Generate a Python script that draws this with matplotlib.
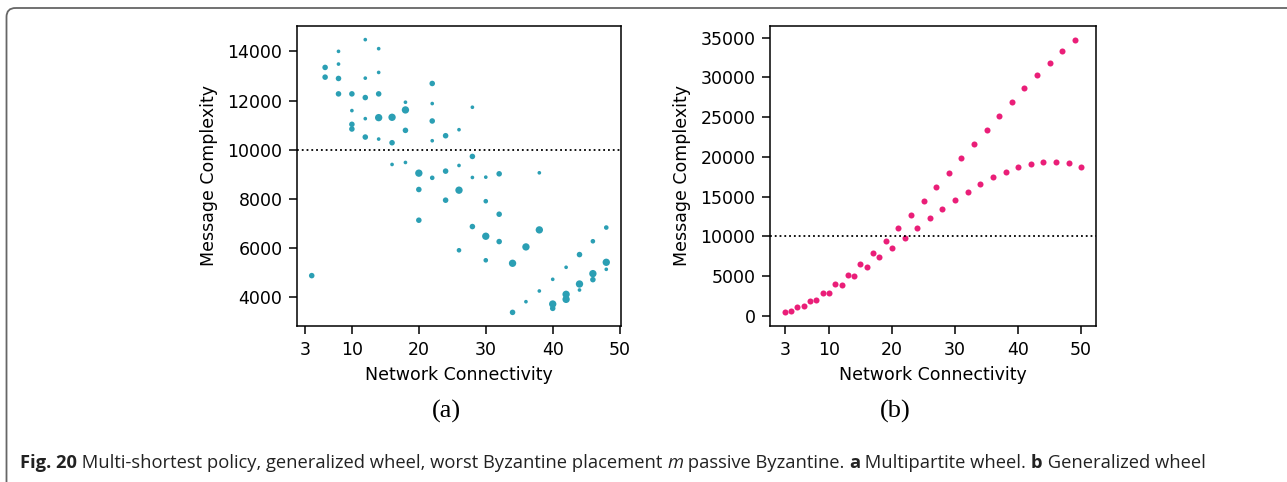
import numpy as np
import matplotlib
matplotlib.use("Agg")
import matplotlib.pyplot as plt
from matplotlib.patches import FancyBboxPatch

# (a) multipartite wheel: connectivity, message complexity, point weight
conn_a = [4, 6, 6, 8, 8, 8, 8, 10, 10, 10, 10,
          12, 12, 12, 12, 12, 14, 14, 14, 14, 14,
          16, 16, 16, 18, 18, 18, 18, 20, 20, 20,
          22, 22, 22, 22, 22, 24, 24, 24, 26, 26, 26, 26,
          28, 28, 28, 28, 30, 30, 30, 30, 32, 32, 32,
          34, 34, 36, 36, 38, 38, 38, 40, 40, 40,
          42, 42, 42, 44, 44, 44, 46, 46, 46, 48, 48, 48]
msg_a = [4885, 13347, 12952, 14000, 13483, 12898, 12272, 12272, 11592, 11034, 10844,
         14476, 12911, 12122, 11265, 10517, 14109, 13143, 12272, 11306, 10435,
         11320, 10286, 9403, 11932, 11619, 10789, 9484, 9050, 8385, 7137,
         12694, 11878, 11170, 10367, 8860, 10571, 9132, 7951, 10816, 9362, 8358, 5916,
         11728, 9729, 8874, 6879, 8887, 7910, 6486, 5509, 9023, 7381, 6269,
         5387, 3392, 6052, 3826, 9064, 6744, 4261, 4735, 3731, 3555,
         5224, 4125, 3921, 5740, 4545, 4301, 6282, 4966, 4722, 6839, 5427, 5142]
weight_a = [3, 3, 3, 1, 1, 3, 3, 3, 1, 3, 3,
            1, 1, 3, 1, 3, 1, 1, 3, 4, 1,
            4, 3, 1, 1, 4, 3, 1, 4, 3, 3,
            3, 1, 3, 1, 2, 3, 3, 3, 1, 1, 4, 2,
            1, 3, 1, 3, 1, 2, 4, 2, 3, 3, 3,
            4, 3, 4, 1, 1, 4, 1, 1, 4, 3,
            1, 4, 4, 3, 4, 1, 2, 4, 3, 2, 4, 1]

# (b) generalized wheel
conn_b = list(range(3, 51))
msg_b = [420, 588, 1092, 1260, 1890, 2017, 2857, 2899, 3950, 3908,
         5168, 5000, 6513, 6134, 7941, 7353, 9454, 8571, 11050, 9790,
         12731, 11050, 14454, 12269, 16229, 13487, 17995, 14580, 19798, 15630,
         21602, 16607, 23417, 17440, 25183, 18159, 26898, 18751, 28625, 19130,
         30265, 19332, 31816, 19382, 33329, 19168, 34766, 18751]

xticks = [3, 10, 20, 30, 40, 50]
threshold = 10000

plt.rcParams['font.family'] = 'DejaVu Sans'
plt.rcParams['font.size'] = 12.5

W, H = 1287, 482
fig = plt.figure(figsize=(W / 100, H / 100), dpi=100)

# frame around the figure
bg = fig.add_axes([0, 0, 1, 1], zorder=-5)
bg.set_xlim(0, W)
bg.set_ylim(H, 0)
bg.axis('off')
bg.add_patch(FancyBboxPatch((6.5, 8), 1400, 600, boxstyle="round,pad=0,rounding_size=9",
                            fill=False, edgecolor='#666666', linewidth=1.3))

area = {1: 7, 2: 11, 3: 16, 4: 28}

ax1 = fig.add_axes([297 / W, 1 - 326 / H, 324 / W, 300 / H])
ax1.scatter(conn_a, msg_a, s=[area[w] for w in weight_a], color='#2b9fb4', linewidths=0)
ax1.axhline(threshold, color='black', linestyle=':', linewidth=1.3)
ax1.set_yticks([4000, 6000, 8000, 10000, 12000, 14000])

ax2 = fig.add_axes([770 / W, 1 - 326 / H, 326 / W, 300 / H])
ax2.scatter(conn_b, msg_b, s=19, color='#ea1e78', linewidths=0)
ax2.axhline(threshold, color='black', linestyle=':', linewidth=1.3)
ax2.set_yticks(range(0, 35001, 5000))

for ax in (ax1, ax2):
    ax.set_xticks(xticks)
    ax.tick_params(length=5.5, width=1.1, pad=5)
    ax.set_xlabel('Network Connectivity', labelpad=5)
    ax.set_ylabel('Message Complexity', labelpad=7)
    for sp in ax.spines.values():
        sp.set_linewidth(1.1)

fig.text(446 / W, 1 - 411 / H, '(a)', family='Liberation Serif', fontsize=19,
         ha='center', va='center')
fig.text(895 / W, 1 - 411 / H, '(b)', family='Liberation Serif', fontsize=19,
         ha='center', va='center')

# caption, written piece by piece
pieces = [('Fig. 20', 'bold', 'normal'),
          (' Multi-shortest policy, generalized wheel, worst Byzantine placement ', 'normal', 'normal'),
          ('m', 'normal', 'italic'),
          (' passive Byzantine. ', 'normal', 'normal'),
          ('a', 'bold', 'normal'),
          (' Multipartite wheel. ', 'normal', 'normal'),
          ('b', 'bold', 'normal'),
          (' Generalized wheel', 'normal', 'normal')]
renderer = fig.canvas.get_renderer()


def place(size, draw):
    x = 20
    texts = []
    for s, wgt, sty in pieces:
        t = fig.text(x / W, 1 - 463 / H, s, family='Open Sans', fontsize=size,
                     fontweight=wgt, fontstyle=sty, color='#222222', va='center')
        x += t.get_window_extent(renderer).width
        texts.append(t)
    if not draw:
        for t in texts:
            t.remove()
    return x - 20


width = place(11, False)
place(11 * 1187 / width, True)

fig.savefig('out.png', dpi=100)
